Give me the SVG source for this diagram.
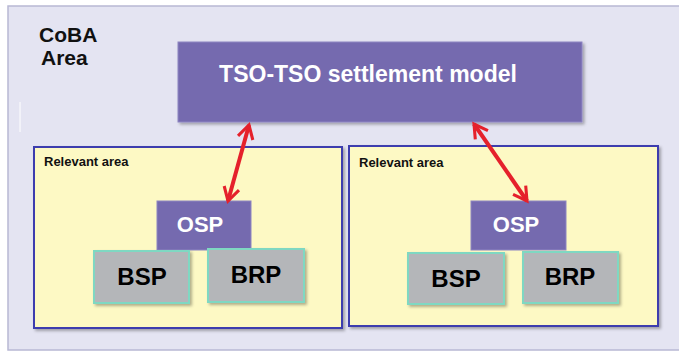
<svg xmlns="http://www.w3.org/2000/svg" width="679" height="354" viewBox="0 0 679 354">
<defs>
<style>
.t{font-family:"Liberation Sans",Arial,sans-serif;font-weight:bold}
.area{fill:#fdf9c4;stroke:#3c3cae;stroke-width:2}
.osp{fill:#756aaf;stroke:#8e85c2;stroke-width:1}
.gray{fill:#b4b6b9;stroke:#7fd8c2;stroke-width:2}
.conn{stroke:#e5212b;stroke-width:4;fill:none;marker-start:url(#ah);marker-end:url(#ah)}
</style>
<marker id="ah" viewBox="0 0 10 10" refX="8" refY="5" markerWidth="4.8" markerHeight="4.8" orient="auto-start-reverse" markerUnits="strokeWidth">
<path d="M1,1 L8,5 L1,9" fill="none" stroke="#e5212b" stroke-width="1.6"/>
</marker>
<filter id="sh" x="-10%" y="-10%" width="130%" height="130%">
<feDropShadow dx="2" dy="2" stdDeviation="1.5" flood-color="#000" flood-opacity="0.3"/>
</filter>
</defs>
<rect width="679" height="354" fill="#ffffff"/>
<g id="coba">
<rect x="8" y="6" width="672" height="344" fill="#e4e4f2" stroke="#b8b8d4" stroke-width="1.5"/>
<text class="t" x="39" y="42" font-size="21" fill="#111">CoBA</text>
<text class="t" x="41" y="65" font-size="21" fill="#111">Area</text>
<line x1="20" y1="102" x2="20" y2="132" stroke="#ffffff" stroke-width="1"/>
</g>
<g id="tso">
<rect x="178" y="42" width="404" height="80" class="osp" filter="url(#sh)"/>
<text class="t" x="368" y="82" font-size="23" fill="#ffffff" text-anchor="middle">TSO-TSO settlement model</text>
</g>
<g id="area-left">
<rect x="34" y="147" width="308" height="181" class="area" filter="url(#sh)"/>
<text class="t" x="44" y="166" font-size="13" fill="#111">Relevant area</text>
</g>
<g id="area-right">
<rect x="349" y="146" width="309" height="180" class="area" filter="url(#sh)"/>
<text class="t" x="359" y="167" font-size="13" fill="#111">Relevant area</text>
</g>
<g id="osp-left">
<rect x="157" y="201" width="94" height="49" class="osp"/>
<text class="t" x="200" y="232" font-size="22" fill="#ffffff" text-anchor="middle">OSP</text>
</g>
<g id="bsp-left">
<rect x="94" y="251" width="95" height="52" class="gray" filter="url(#sh)"/>
<text class="t" x="142" y="285" font-size="24" fill="#000" text-anchor="middle">BSP</text>
</g>
<g id="brp-left">
<rect x="208" y="249" width="96" height="53" class="gray" filter="url(#sh)"/>
<text class="t" x="256" y="283" font-size="24" fill="#000" text-anchor="middle">BRP</text>
</g>
<g id="osp-right">
<rect x="471" y="201" width="95" height="49" class="osp"/>
<text class="t" x="516" y="232" font-size="22" fill="#ffffff" text-anchor="middle">OSP</text>
</g>
<g id="bsp-right">
<rect x="408" y="253" width="96" height="51" class="gray" filter="url(#sh)"/>
<text class="t" x="456" y="287" font-size="24" fill="#000" text-anchor="middle">BSP</text>
</g>
<g id="brp-right">
<rect x="523" y="252" width="95" height="51" class="gray" filter="url(#sh)"/>
<text class="t" x="570" y="285" font-size="24" fill="#000" text-anchor="middle">BRP</text>
</g>
<g id="connectors">
<line class="conn" x1="249" y1="125" x2="228" y2="201"/>
<line class="conn" x1="474" y1="124" x2="527" y2="201"/>
</g>
</svg>
